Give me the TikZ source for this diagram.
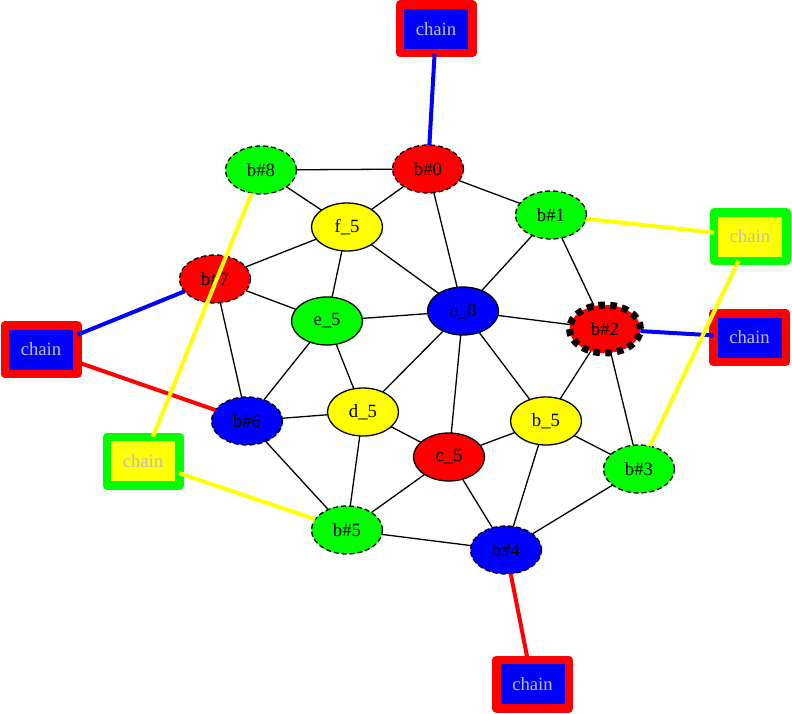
\documentclass[tikz,border=0pt]{standalone}
\usepackage{fontspec}
\setmainfont{Liberation Serif}
\usetikzlibrary{shapes.geometric}
\definecolor{cgreen}{RGB}{0,255,0}
\definecolor{cred}{RGB}{255,0,0}
\definecolor{cblue}{RGB}{0,0,255}
\definecolor{cyellow}{RGB}{255,255,0}
\definecolor{cgray}{RGB}{190,190,190}
\begin{document}
\begin{tikzpicture}[x=1pt,y=-1pt,
  nd/.style={ellipse, minimum width=71pt, minimum height=48pt, inner sep=0pt, outer sep=0pt,
    draw=black, line width=1.3pt, font=\fontsize{18.7}{20}\selectfont},
  bd/.style={nd, dash pattern=on 5pt off 3pt},
  thickdash/.style={nd, line width=7pt, dash pattern=on 6.5pt off 5.3pt},
  chainbox/.style={rectangle, line join=round, minimum width=72.5pt, minimum height=48.5pt,
    line width=8.5pt, inner sep=0pt, outer sep=0pt, text=cgray, font=\fontsize{18.7}{20}\selectfont},
  redchain/.style={chainbox, draw=cred, fill=cblue},
  greenchain/.style={chainbox, draw=cgreen, fill=cyellow},
  ed/.style={line width=1.3pt, black},
  ce/.style={line width=4pt},
]
\useasboundingbox (0,0) rectangle (792,714);
% nodes
\node[bd, fill=cred] (b0) at (428,169) {b\#0};
\node[bd, fill=cgreen] (b1) at (551,215) {b\#1};
\node[thickdash, fill=cred] (b2) at (605,329) {b\#2};
\node[bd, fill=cgreen] (b3) at (639,469) {b\#3};
\node[bd, fill=cblue] (b4) at (506,550) {b\#4};
\node[bd, fill=cgreen] (b5) at (347,530) {b\#5};
\node[bd, fill=cblue] (b6) at (247,421) {b\#6};
\node[bd, fill=cred] (b7) at (215,279) {b\#7};
\node[bd, fill=cgreen] (b8) at (261,170) {b\#8};
\node[nd, fill=cblue] (a8) at (463,311) {a\_8};
\node[nd, fill=cyellow] (f5) at (347,227) {f\_5};
\node[nd, fill=cgreen] (e5) at (327,321) {e\_5};
\node[nd, fill=cyellow] (d5) at (363,412) {d\_5};
\node[nd, fill=cred] (c5) at (449,457) {c\_5};
\node[nd, fill=cyellow] (bf) at (546,421) {b\_5};
\node[redchain] (ct) at (436,29) {chain};
\node[greenchain] (cr1) at (750,236.5) {chain};
\node[redchain] (cr2) at (749.5,337.5) {chain};
\node[redchain] (cl1) at (41,349.5) {chain};
\node[greenchain] (cl2) at (143,461) {chain};
\node[redchain] (cb) at (532.5,684) {chain};
% black edges
\draw[ed] (b8) -- (b0);
\draw[ed] (b8) -- (f5);
\draw[ed] (b0) -- (f5);
\draw[ed] (b0) -- (a8);
\draw[ed] (b0) -- (b1);
\draw[ed] (b1) -- (a8);
\draw[ed] (b1) -- (b2);
\draw[ed] (f5) -- (b7);
\draw[ed] (f5) -- (e5);
\draw[ed] (f5) -- (a8);
\draw[ed] (b7) -- (e5);
\draw[ed] (b7) -- (b6);
\draw[ed] (e5) -- (a8);
\draw[ed] (e5) -- (b6);
\draw[ed] (e5) -- (d5);
\draw[ed] (a8) -- (b2);
\draw[ed] (a8) -- (d5);
\draw[ed] (a8) -- (c5);
\draw[ed] (a8) -- (bf);
\draw[ed] (b2) -- (bf);
\draw[ed] (b2) -- (b3);
\draw[ed] (b6) -- (d5);
\draw[ed] (b6) -- (b5);
\draw[ed] (d5) -- (c5);
\draw[ed] (d5) -- (b5);
\draw[ed] (c5) -- (bf);
\draw[ed] (c5) -- (b5);
\draw[ed] (c5) -- (b4);
\draw[ed] (bf) -- (b3);
\draw[ed] (bf) -- (b4);
\draw[ed] (b3) -- (b4);
\draw[ed] (b5) -- (b4);
% chain edges
\draw[ce, cblue] (ct) -- (b0);
\draw[ce, cblue] (b2) -- (cr2);
\draw[ce, cblue] (cl1) -- (b7);
\draw[ce, cred] (cl1) -- (b6);
\draw[ce, cred] (b4) -- (cb);
\draw[ce, cyellow] (b1) -- (cr1);
\draw[ce, cyellow] (cr1) -- (b3);
\draw[ce, cyellow] (b8) -- (cl2);
\draw[ce, cyellow] (cl2) -- (b5);
\end{tikzpicture}
\end{document}
